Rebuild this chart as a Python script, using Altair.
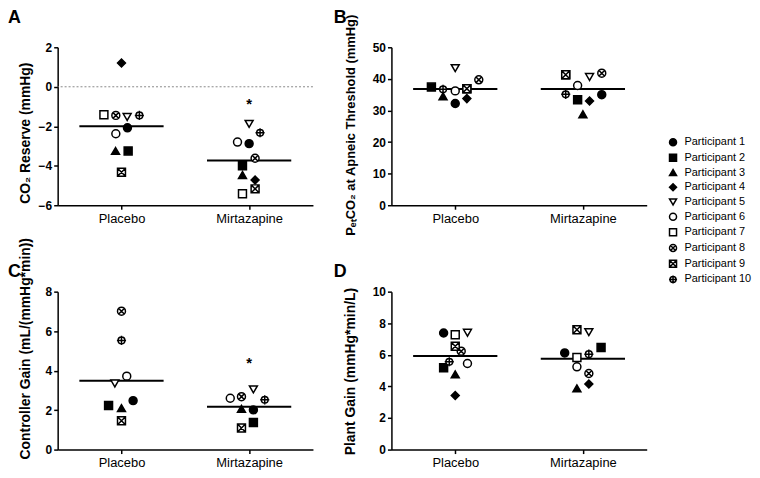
import altair as alt
import pandas as pd

FONT = "Liberation Sans"

participants = [f"Participant {i}" for i in range(1, 11)]
groups = ["Placebo", "Mirtazapine"]

# values per participant 1..10 (None = missing)
a_placebo = [-2.08, -3.25, -3.25, 1.2, -1.53, -2.38, -1.42, -1.45, -4.33, -1.45]
a_mirt = [-2.88, -4.0, -4.47, -4.72, -1.88, -2.8, -5.42, -3.62, -5.17, -2.33]
b_placebo = [32.2, 37.4, 34.5, 33.75, 43.4, 36.2, 36.9, 39.7, 36.9, 36.7]
b_mirt = [35.0, 33.4, 28.8, 33.0, 40.6, 37.9, 41.3, 41.8, 41.3, 35.1]
c_placebo = [2.48, 2.23, 2.1, None, 3.35, 3.72, None, 7.01, 1.46, 5.53]
c_mirt = [2.01, 1.37, 2.06, None, 3.05, 2.6, None, 2.68, 1.09, 2.52]
d_placebo = [7.38, 5.18, 4.76, 3.42, 7.4, 5.45, 7.27, 6.23, 6.54, 5.56]
d_mirt = [6.12, 6.46, 3.88, 4.15, 7.44, 5.24, 5.83, 4.82, 7.59, 6.04]

# horizontal scatter offsets (in 1/128 of a category step)
a_placebo_jit = [6, 6.7, -6, 0, 5.7, -5.7, -17.7, -5.7, 0, 18]
a_mirt_jit = [0, -6.7, -6.7, 6, 0, -11.7, -6.7, 6, 6, 11]
b_placebo_jit = [0, -24, -12.3, 11.7, 0, 0, 11.7, 23.7, 11.7, -12.3]
b_mirt_jit = [19, -5.3, 0, 6.7, 6.7, -5.3, -17.3, 19, -17.3, -17.3]
c_placebo_jit = [11.7, -13, 0, 0, -6.7, 5.3, 0, 0, 0, 0]
c_mirt_jit = [4.3, 4.3, -7.7, 0, 4.3, -19, 0, -7.7, -7.7, 15.7]
d_placebo_jit = [-11.7, -11.7, 0, 0, 12.3, 12.3, 0, 6, 0, -6]
d_mirt_jit = [-18.3, 18.3, -6, 6, 6, -6, -6, 6, -6, 6]

# significance stars (value position on the Mirtazapine column)
a_star = -0.72
c_star = 4.53

P8 = "M-1,0A1,1,0,1,1,1,0A1,1,0,1,1,-1,0ZM-0.7,-0.7L0.7,0.7M-0.7,0.7L0.7,-0.7"
P9 = "M-1,-1H1V1H-1ZM-1,-1L1,1M-1,1L1,-1"
P10 = "M-0.85,0A0.85,0.85,0,1,1,0.85,0A0.85,0.85,0,1,1,-0.85,0ZM-1.15,0H1.15M0,-1.15V1.15"
shape_range = ["circle", "square", "triangle-up", "diamond", "triangle-down",
               "circle", "square", P8, P9, P10]
fill_range = ["black"] * 4 + ["white"] * 6
stroke_range = ["black"] * 10

W, H = 257, 159

legend = alt.Legend(title=None, orient="none", legendX=614, legendY=90,
                    labelFont=FONT, labelFontSize=11, labelColor="black",
                    symbolSize=50, rowPadding=0.8, labelOffset=6,
                    symbolStrokeWidth=1.5)


def panel(pl, mi, jpl, jmi, ymin, ymax, step, title, tx, ty, tsize, letter, lx, ly,
          star=None, zero_line=False):
    rows = []
    for gi, (vals, jits) in enumerate([(pl, jpl), (mi, jmi)]):
        for p, v, j in zip(participants, vals, jits):
            if v is None:
                continue
            rows.append(dict(participant=p, group=gi + 1, value=v, jitter=j))
    df = pd.DataFrame(rows)
    base = alt.Chart(df)
    xscale = alt.Scale(domain=[0.5, 2.5], nice=False, zero=False)
    yscale = alt.Scale(domain=[ymin, ymax], nice=False, zero=False)
    label_expr = f"datum.value == 1 ? '{groups[0]}' : '{groups[1]}'"
    xaxis = alt.Axis(values=[1, 2], labelExpr=label_expr, title=None)
    yaxis = alt.Axis(values=list(range(ymin, ymax + 1, step)), title=title,
                     titleX=tx, titleY=ty, titleBaseline="alphabetic",
                     titleAngle=270, titleFontSize=tsize)

    mean = base.transform_aggregate(
        mean="mean(value)", groupby=["group"]
    ).transform_calculate(
        x1="datum.group - 0.33", x2="datum.group + 0.33"
    ).mark_rule(color="black", strokeWidth=2).encode(
        x=alt.X("x1:Q", scale=xscale, axis=xaxis),
        x2="x2:Q",
        y=alt.Y("mean:Q", scale=yscale, axis=yaxis),
    )
    pts = base.transform_calculate(
        xpos="datum.group + datum.jitter / 128.5"
    ).mark_point(filled=True, strokeWidth=1.5, size=64, opacity=1).encode(
        x=alt.X("xpos:Q", scale=xscale, axis=xaxis),
        y=alt.Y("value:Q", scale=yscale, axis=yaxis),
        shape=alt.Shape("participant:N",
                        scale=alt.Scale(domain=participants, range=shape_range),
                        legend=legend),
        fill=alt.Fill("participant:N",
                      scale=alt.Scale(domain=participants, range=fill_range),
                      legend=legend),
        stroke=alt.Stroke("participant:N",
                          scale=alt.Scale(domain=participants, range=stroke_range),
                          legend=legend),
    )
    layers = []
    if zero_line:
        layers.append(alt.Chart(pd.DataFrame({"y": [0]})).mark_rule(
            color="#888888", strokeWidth=1, strokeDash=[2, 2]).encode(
            y=alt.Y("y:Q", scale=yscale, axis=yaxis)))
    layers += [mean, pts]
    if star is not None:
        layers.append(alt.Chart(pd.DataFrame({"g": [2], "v": [star], "t": ["*"]})).mark_text(
            font=FONT, fontSize=15, fontWeight="bold", color="black", baseline="middle", dy=3).encode(
            x=alt.X("g:Q", scale=xscale, axis=xaxis),
            y=alt.Y("v:Q", scale=yscale, axis=yaxis),
            text="t:N"))
    layers.append(alt.Chart(pd.DataFrame({"t": [letter]})).mark_text(
        font=FONT, fontSize=18, fontWeight="bold", color="black",
        align="left", baseline="top").encode(
        x=alt.value(lx), y=alt.value(ly), text="t:N"))
    return alt.layer(*layers).properties(width=W, height=H)


A = panel(a_placebo, a_mirt, a_placebo_jit, a_mirt_jit, -6, 2, 2,
          "CO₂ Reserve (mmHg)", -28, 86, 14, "A", -50, -38, star=a_star, zero_line=True)
B = panel(b_placebo, b_mirt, b_placebo_jit, b_mirt_jit, 0, 50, 10,
          "PₑₜCO₂ at Apneic Threshold (mmHg)", -37, 78, 13, "B", -58, -38)
C = panel(c_placebo, c_mirt, c_placebo_jit, c_mirt_jit, 0, 8, 2,
          "Controller Gain (mL/(mmHg*min))", -28, 57, 14, "C", -50, -29, star=c_star)
D = panel(d_placebo, d_mirt, d_placebo_jit, d_mirt_jit, 0, 10, 2,
          "Plant Gain (mmHg*min/L)", -37, 80, 14, "D", -58, -29)

chart = alt.concat(A, B, C, D, columns=2, spacing={"row": 87, "column": 79},
                   bounds="flush").properties(padding=0).configure_view(
    stroke=None
).configure_axis(
    grid=False, domainColor="black", domainWidth=1.5, tickColor="black",
    tickWidth=1.5, tickSize=4, labelColor="black", titleColor="black",
    labelFont=FONT, titleFont=FONT, titleFontSize=14, titleFontWeight="bold",
).configure_axisY(
    labelFontSize=12, labelFontWeight="bold", labelPadding=2
).configure_axisX(
    labelFontSize=13, labelFontWeight="normal", labelPadding=3
)

chart.save("out.html", embed_options={"renderer": "svg", "actions": False})
